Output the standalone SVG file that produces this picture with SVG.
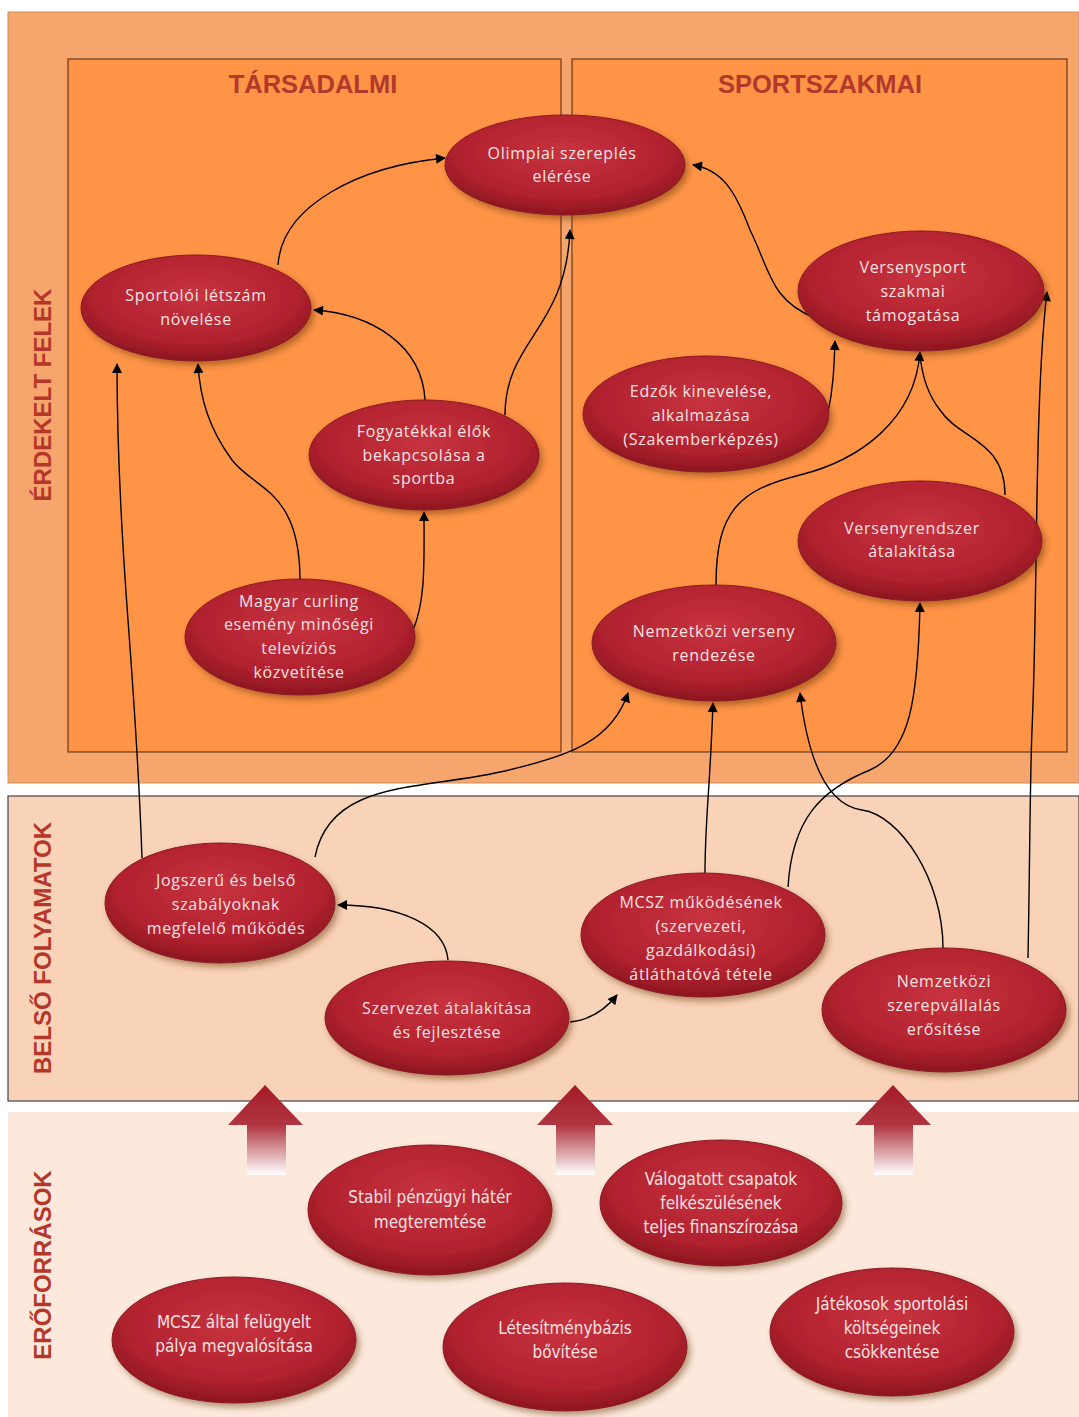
<svg xmlns="http://www.w3.org/2000/svg" width="1079" height="1417" viewBox="0 0 1079 1417">
<defs>
<radialGradient id="eg" cx="50%" cy="38%" r="62%">
<stop offset="0" stop-color="#C7333F"/>
<stop offset="0.7" stop-color="#B2222F"/>
<stop offset="1" stop-color="#8C1620"/>
</radialGradient>
<linearGradient id="ag" x1="0" y1="0" x2="0" y2="1">
<stop offset="0" stop-color="#A31C28"/>
<stop offset="0.45" stop-color="#B03540"/>
<stop offset="1" stop-color="#FFFFFF"/>
</linearGradient>
<filter id="sh" x="-20%" y="-20%" width="140%" height="150%">
<feDropShadow dx="3" dy="4" stdDeviation="3" flood-color="#5a2a10" flood-opacity="0.45"/>
</filter>
<marker id="ah" viewBox="0 0 10 10" refX="9" refY="5" markerWidth="12" markerHeight="10" markerUnits="userSpaceOnUse" orient="auto">
<path d="M0,0 L10,5 L0,10 z" fill="#000"/>
</marker>
</defs>
<style>
.band1{fill:#F6A56D;stroke:#C9915A;stroke-width:1}
.band2{fill:#F9D3B7;stroke:#444;stroke-width:1.2}
.band3{fill:#FDE9DC}
.box{fill:#FF9447;stroke:#6B3A1E;stroke-width:1.2}
.hdr{font-family:"Liberation Sans",Arial,sans-serif;font-weight:bold;font-size:25.5px;fill:#B2392B;text-anchor:middle}
.side{font-family:"Liberation Sans",Arial,sans-serif;font-weight:bold;font-size:24px;fill:#B5372A;text-anchor:middle}
.node ellipse{fill:url(#eg);stroke:#8A1A22;stroke-width:1;filter:url(#sh)}
.node text{font-family:"Open Sans","Liberation Sans",sans-serif;font-size:16px;letter-spacing:0.7px;fill:#F6E2E2;text-anchor:middle}
.res text{font-family:"Liberation Sans Narrow","DejaVu Sans Condensed","Liberation Sans",sans-serif;font-stretch:condensed;font-size:17px;letter-spacing:0}
.conn path{fill:none;stroke:#000;stroke-width:1.4}
.big{fill:url(#ag)}
</style>

<rect class="band1" x="8" y="12" width="1071" height="771"/>
<rect class="band2" x="8" y="796" width="1071" height="305"/>
<rect class="band3" x="8" y="1112" width="1071" height="305"/>
<rect class="box" x="68" y="59" width="493" height="693"/>
<rect class="box" x="572" y="59" width="495" height="693"/>

<text class="hdr" x="313" y="93">TÁRSADALMI</text>
<text class="hdr" x="820" y="93">SPORTSZAKMAI</text>
<text class="side" transform="translate(51,395) rotate(-90)">ÉRDEKELT FELEK</text>
<text class="side" transform="translate(51,948) rotate(-90)">BELSŐ FOLYAMATOK</text>
<text class="side" transform="translate(51,1265) rotate(-90)">ERŐFORRÁSOK</text>

<g id="bigarrows">
<path class="big" d="M265,1085 L303,1125 L286,1125 L286,1175 L247,1175 L247,1125 L228,1125 z"/>
<path class="big" d="M575,1085 L613,1125 L595,1125 L595,1175 L556,1175 L556,1125 L537,1125 z"/>
<path class="big" d="M893,1085 L931,1125 L913,1125 L913,1175 L874,1175 L874,1125 L855,1125 z"/>
</g>

<g id="connectors" class="conn">
<path d="M278,265 C282,205 360,166 445,158" marker-end="url(#ah)"/>
<path d="M425,400 C422,345 372,314 314,310" marker-end="url(#ah)"/>
<path d="M505,415 C505,340 566,330 570,230" marker-end="url(#ah)"/>
<path d="M300,580 C300,490 255,490 232,460 C210,430 200,400 198,364" marker-end="url(#ah)"/>
<path d="M413,630 C426,600 424,560 424,512" marker-end="url(#ah)"/>
<path d="M142,858 C140,800 134,700 128,620 C122,540 117,450 117,364" marker-end="url(#ah)"/>
<path d="M315,857 C330,780 420,790 500,772 C572,756 612,740 628,693" marker-end="url(#ah)"/>
<path d="M705,873 C705,820 710,790 713,703" marker-end="url(#ah)"/>
<path d="M788,887 C792,820 820,790 870,770 C910,752 918,700 920,603" marker-end="url(#ah)"/>
<path d="M943,948 C943,880 900,815 862,810 C826,805 808,760 800,693" marker-end="url(#ah)"/>
<path d="M1028,958 C1030,850 1030,780 1032,730 C1038,600 1034,400 1047,292" marker-end="url(#ah)"/>
<path d="M716,585 C716,510 740,490 800,475 C860,460 915,420 920,352" marker-end="url(#ah)"/>
<path d="M1005,495 C1005,440 960,440 940,410 C928,395 922,375 920,355"/>
<path d="M828,412 C833,390 834,370 835,341" marker-end="url(#ah)"/>
<path d="M815,318 C770,300 770,270 750,230 C735,190 722,170 693,165" marker-end="url(#ah)"/>
<path d="M448,960 C445,925 400,905 338,905" marker-end="url(#ah)"/>
<path d="M570,1022 C590,1020 605,1010 617,995" marker-end="url(#ah)"/>
</g>

<g id="n-olimpiai" class="node"><ellipse cx="565" cy="165" rx="120" ry="50"/><text x="562" y="159">Olimpiai szereplés</text><text x="562" y="182">elérése</text></g>
<g id="n-sportoloi" class="node"><ellipse cx="196" cy="308" rx="115" ry="53"/><text x="196" y="301">Sportolói létszám</text><text x="196" y="325">növelése</text></g>
<g id="n-versenysport" class="node"><ellipse cx="921" cy="291" rx="123" ry="60"/><text x="913" y="273">Versenysport</text><text x="913" y="297">szakmai</text><text x="913" y="321">támogatása</text></g>
<g id="n-edzok" class="node"><ellipse cx="706" cy="414" rx="123" ry="58"/><text x="701" y="397">Edzők kinevelése,</text><text x="701" y="421">alkalmazása</text><text x="701" y="445">(Szakemberképzés)</text></g>
<g id="n-fogyatekkal" class="node"><ellipse cx="424" cy="455" rx="115" ry="55"/><text x="424" y="437">Fogyatékkal élők</text><text x="424" y="461">bekapcsolása a</text><text x="424" y="484">sportba</text></g>
<g id="n-versenyrendszer" class="node"><ellipse cx="920" cy="541" rx="122" ry="60"/><text x="912" y="534">Versenyrendszer</text><text x="912" y="557">átalakítása</text></g>
<g id="n-curling" class="node"><ellipse cx="300" cy="637" rx="115" ry="58"/><text x="299" y="607">Magyar curling</text><text x="299" y="630">esemény  minőségi</text><text x="299" y="654">televíziós</text><text x="299" y="678">közvetítése</text></g>
<g id="n-nemzetkozi-verseny" class="node"><ellipse cx="714" cy="643" rx="122" ry="58"/><text x="714" y="637">Nemzetközi  verseny</text><text x="714" y="661">rendezése</text></g>
<g id="n-jogszeru" class="node"><ellipse cx="220" cy="903" rx="115" ry="60"/><text x="226" y="886">Jogszerű és belső</text><text x="226" y="910">szabályoknak</text><text x="226" y="934">megfelelő működés</text></g>
<g id="n-mcsz-mukodes" class="node"><ellipse cx="703" cy="935" rx="122" ry="62"/><text x="701" y="908">MCSZ működésének</text><text x="701" y="932">(szervezeti,</text><text x="701" y="956">gazdálkodási)</text><text x="701" y="980">átláthatóvá tétele</text></g>
<g id="n-szervezet" class="node"><ellipse cx="447" cy="1018" rx="122" ry="57"/><text x="447" y="1014">Szervezet  átalakítása</text><text x="447" y="1038">és fejlesztése</text></g>
<g id="n-szerepvallalas" class="node"><ellipse cx="944" cy="1010" rx="122" ry="62"/><text x="944" y="987">Nemzetközi</text><text x="944" y="1011">szerepvállalás</text><text x="944" y="1035">erősítése</text></g>

<g id="n-stabil" class="node res"><ellipse cx="430" cy="1210" rx="122" ry="65"/><text x="430" y="1203">Stabil pénzügyi hátér</text><text x="430" y="1228">megteremtése</text></g>
<g id="n-valogatott" class="node res"><ellipse cx="721" cy="1203" rx="121" ry="63"/><text x="721" y="1185">Válogatott csapatok</text><text x="721" y="1209">felkészülésének</text><text x="721" y="1233">teljes finanszírozása</text></g>
<g id="n-palya" class="node res"><ellipse cx="234" cy="1340" rx="122" ry="63"/><text x="234" y="1328">MCSZ által felügyelt</text><text x="234" y="1352">pálya megvalósítása</text></g>
<g id="n-letesitmeny" class="node res"><ellipse cx="565" cy="1347" rx="122" ry="64"/><text x="565" y="1334">Létesítménybázis</text><text x="565" y="1358">bővítése</text></g>
<g id="n-jatekosok" class="node res"><ellipse cx="892" cy="1332" rx="122" ry="64"/><text x="892" y="1310">Játékosok sportolási</text><text x="892" y="1334">költségeinek</text><text x="892" y="1358">csökkentése</text></g>
</svg>
